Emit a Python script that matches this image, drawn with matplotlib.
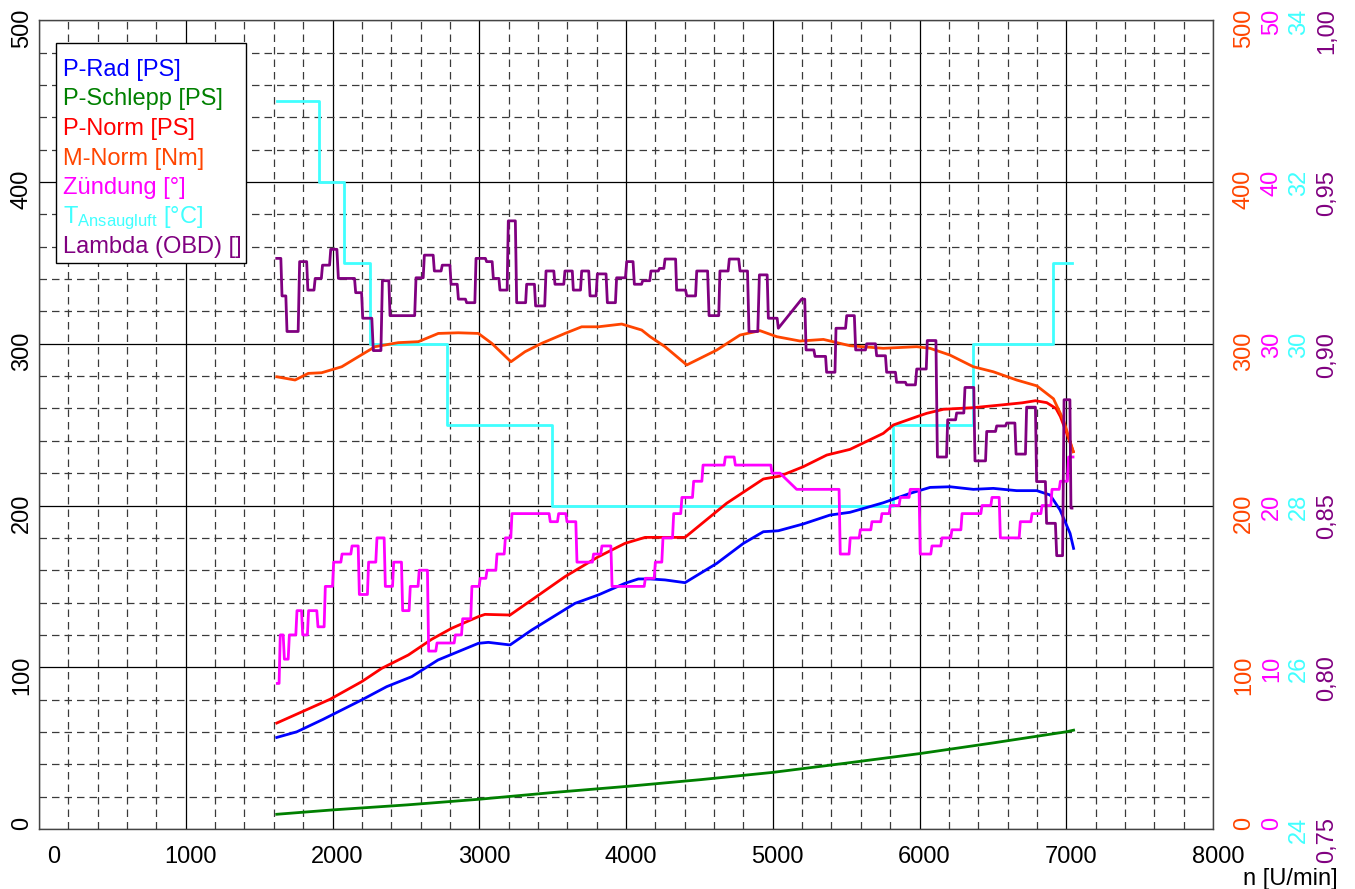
import matplotlib
matplotlib.use('Agg')
import matplotlib.pyplot as plt
import matplotlib.transforms as mtransforms
from matplotlib.patches import Rectangle
import numpy as np

plt.rcParams['font.family'] = ['Liberation Sans', 'DejaVu Sans']
plt.rcParams['mathtext.fontset'] = 'custom'
plt.rcParams['mathtext.rm'] = 'Liberation Sans'

# ---------------- data ----------------
x_ticks = [0, 1000, 2000, 3000, 4000, 5000, 6000, 7000, 8000]
x_ticklabels = ['0', '1000', '2000', '3000', '4000', '5000', '6000', '7000', '8000']
y_ticks = [0, 100, 200, 300, 400, 500]
y_ticklabels = ['0', '100', '200', '300', '400', '500']
m_ticklabels = ['0', '100', '200', '300', '400', '500']
z_ticklabels = ['0', '10', '20', '30', '40', '50']
t_ticklabels = ['24', '26', '28', '30', '32', '34']
l_ticklabels = ['0,75', '0,80', '0,85', '0,90', '0,95', '1,00']

legend_labels = ['P-Rad [PS]', 'P-Schlepp [PS]', 'P-Norm [PS]', 'M-Norm [Nm]',
                 'Zündung [°]', r'T$\mathregular{_{Ansaugluft}}$ [°C]', 'Lambda (OBD) []']

# P-Rad [PS]
prad_n = [1620, 1757, 1936, 2199, 2369, 2540, 2719, 2994, 3062, 3210, 3357, 3652, 3811,
          3993, 4084, 4164, 4266, 4402, 4618, 4800, 4936, 5038, 5208, 5390, 5526, 5753,
          5935, 6072, 6208, 6367, 6503, 6662, 6799, 6890, 6958, 7026, 7050]
prad_v = [56.6, 60.1, 67.8, 79.8, 88.0, 94.2, 104.5, 114.8, 115.4, 113.8, 123.0, 139.5, 144.7,
          151.9, 154.6, 154.6, 154.0, 152.3, 164.2, 176.6, 183.8, 184.4, 188.6, 194.1, 195.8, 201.7,
          207.5, 211.2, 211.6, 210.0, 210.6, 209.2, 209.2, 206.5, 197.2, 182.8, 173.5]

# P-Schlepp [PS]
pschl_n = [1620, 2000, 2507, 3000, 3507, 4000, 4507, 5000, 5507, 6000, 6507, 7000, 7050]
pschl_v = [9.1, 11.8, 14.9, 18.4, 22.6, 26.3, 30.5, 35.0, 40.8, 46.6, 53.3, 60.1, 61.1]

# P-Norm [PS]
pnorm_n = [1620, 1983, 2199, 2335, 2517, 2676, 2812, 2994, 3039, 3210, 3357, 3584, 3811,
           3993, 4130, 4266, 4402, 4686, 4936, 5049, 5208, 5368, 5526, 5753, 5822, 5981,
           6049, 6163, 6367, 6549, 6700, 6790, 6867, 6930, 6960, 6985, 7010, 7048]
pnorm_v = [65.5, 80.2, 91.1, 99.3, 107.6, 117.3, 124.1, 131.3, 132.7, 132.3, 141.6, 156.0, 168.3,
           176.6, 180.3, 180.3, 180.3, 201.4, 216.4, 218.2, 224.0, 231.2, 234.7, 244.6, 249.8, 254.9,
           257.0, 259.5, 260.5, 262.1, 263.5, 264.8, 263.6, 260.0, 255.0, 249.0, 243.0, 233.3]

# M-Norm [Nm]
mnorm_n = [1620, 1745, 1835, 1926, 2063, 2176, 2290, 2448, 2585, 2721, 2857, 2994, 3085,
           3216, 3312, 3426, 3584, 3698, 3811, 3971, 4107, 4164, 4266, 4414, 4618, 4777,
           4913, 5027, 5186, 5345, 5526, 5753, 5981, 6072, 6208, 6367, 6503, 6662, 6799,
           6913, 6981, 7048]
mnorm_v = [279.6, 277.6, 281.7, 282.1, 285.8, 292.0, 298.2, 300.7, 301.3, 306.4, 306.8, 306.4, 300.3,
           288.9, 295.1, 300.3, 306.4, 310.5, 310.5, 312.2, 308.5, 304.4, 298.2, 286.9, 296.1, 305.4,
           308.1, 304.4, 301.7, 302.7, 298.8, 297.2, 298.2, 297.2, 293.0, 285.8, 282.7, 277.6, 274.0,
           266.0, 252.9, 233.3]

# Zündung [°]  (polyline vertices)
zuend_n = [1624, 1636, 1644, 1664, 1672, 1698, 1706, 1750, 1758, 1789, 1797, 1829, 1837, 1893,
           1901, 1943, 1951, 2000, 2008, 2057, 2065, 2125, 2133, 2175, 2183, 2238, 2246, 2295,
           2303, 2352, 2360, 2409, 2417, 2470, 2478, 2522, 2530, 2583, 2591, 2647, 2655, 2704,
           2712, 2829, 2837, 2879, 2887, 2942, 2950, 2999, 3007, 3045, 3053, 3113, 3121, 3170,
           3178, 3215, 3223, 3476, 3484, 3533, 3541, 3590, 3598, 3658, 3666, 3771, 3779, 3828,
           3836, 3897, 3905, 4124, 4132, 4192, 4200, 4244, 4252, 4317, 4325, 4373, 4381, 4453,
           4461, 4517, 4525, 4669, 4677, 4737, 4745, 4987, 4995, 5049, 5163, 5452, 5460, 5520,
           5528, 5589, 5597, 5668, 5676, 5736, 5744, 5793, 5801, 5861, 5869, 5929, 5937, 5997,
           6005, 6077, 6085, 6145, 6153, 6213, 6221, 6282, 6290, 6418, 6426, 6486, 6494, 6543,
           6551, 6679, 6687, 6759, 6767, 6827, 6835, 6895, 6903, 6952, 6960, 7008, 7016, 7046]
zuend_deg = [9.0, 9.0, 12.0, 12.0, 10.5, 10.5, 12.0, 12.0, 13.5, 13.5, 12.0, 12.0, 13.5, 13.5,
             12.5, 12.5, 15.0, 15.0, 16.5, 16.5, 17.0, 17.0, 17.5, 17.5, 14.5, 14.5, 16.5, 16.5,
             18.0, 18.0, 15.0, 15.0, 16.5, 16.5, 13.5, 13.5, 15.0, 15.0, 16.0, 16.0, 11.0, 11.0,
             11.5, 11.5, 12.0, 12.0, 13.0, 13.0, 15.0, 15.0, 15.5, 15.5, 16.0, 16.0, 17.0, 17.0,
             18.0, 18.0, 19.5, 19.5, 19.0, 19.0, 19.5, 19.5, 19.0, 19.0, 16.5, 16.5, 17.0, 17.0,
             17.5, 17.5, 15.0, 15.0, 15.5, 15.5, 16.5, 16.5, 18.0, 18.0, 19.5, 19.5, 20.5, 20.5,
             21.5, 21.5, 22.5, 22.5, 23.0, 23.0, 22.5, 22.5, 22.0, 22.0, 21.0, 21.0, 17.0, 17.0,
             18.0, 18.0, 18.5, 18.5, 19.0, 19.0, 19.5, 19.5, 20.0, 20.0, 20.5, 20.5, 21.0, 21.0,
             17.0, 17.0, 17.5, 17.5, 18.0, 18.0, 18.5, 18.5, 19.5, 19.5, 20.0, 20.0, 20.5, 20.5,
             18.0, 18.0, 19.0, 19.0, 19.5, 19.5, 20.0, 20.0, 21.0, 21.0, 21.5, 21.5, 23.0, 23.0]

# T Ansaugluft [°C]  (step edges / values)
tans_n = [1620, 1910, 2080, 2255, 2778, 3494, 5820, 6362, 6911, 7040]
tans_c = [33, 32, 31, 30, 29, 28, 29, 30, 31, 31]

# Lambda (OBD)  (polyline vertices)
lam_n = [1620, 1648, 1656, 1682, 1690, 1766, 1776, 1824, 1832, 1874, 1882, 1924, 1932, 1980,
         1988, 2030, 2040, 2150, 2158, 2198, 2206, 2268, 2278, 2330, 2340, 2384, 2392, 2560,
         2569, 2618, 2626, 2686, 2694, 2740, 2748, 2800, 2808, 2850, 2858, 2906, 2914, 2970,
         2978, 3042, 3050, 3088, 3096, 3134, 3141, 3190, 3198, 3246, 3255, 3316, 3323, 3376,
         3384, 3446, 3455, 3508, 3516, 3576, 3584, 3634, 3641, 3690, 3698, 3746, 3755, 3796,
         3805, 3864, 3873, 3928, 3936, 3996, 4005, 4048, 4057, 4106, 4114, 4162, 4170, 4220,
         4228, 4258, 4266, 4338, 4345, 4406, 4414, 4474, 4482, 4556, 4566, 4632, 4640, 4696,
         4704, 4768, 4777, 4828, 4838, 4898, 4909, 4962, 4970, 5030, 5038, 5197, 5218, 5227,
         5280, 5288, 5360, 5367, 5424, 5431, 5496, 5504, 5556, 5565, 5632, 5640, 5700, 5708,
         5768, 5776, 5836, 5844, 5904, 5912, 5972, 5981, 6046, 6053, 6112, 6122, 6184, 6192,
         6246, 6253, 6302, 6310, 6370, 6378, 6450, 6458, 6518, 6526, 6586, 6594, 6650, 6658,
         6722, 6730, 6790, 6798, 6858, 6866, 6926, 6935, 6975, 6985, 7025, 7032, 7039]
lam_v = [0.9264, 0.9264, 0.9148, 0.9148, 0.9038, 0.9038, 0.9254, 0.9254, 0.9166, 0.9166,
         0.9202, 0.9202, 0.9243, 0.9243, 0.9292, 0.9292, 0.9202, 0.9202, 0.9158, 0.9158,
         0.9079, 0.9079, 0.8979, 0.8979, 0.9195, 0.9195, 0.9087, 0.9087, 0.9204, 0.9204,
         0.9274, 0.9274, 0.9225, 0.9225, 0.9243, 0.9243, 0.9184, 0.9184, 0.9138, 0.9138,
         0.9127, 0.9127, 0.9264, 0.9264, 0.9254, 0.9254, 0.9202, 0.9202, 0.9166, 0.9166,
         0.9380, 0.9380, 0.9127, 0.9127, 0.9184, 0.9184, 0.9117, 0.9117, 0.9225, 0.9225,
         0.9184, 0.9184, 0.9225, 0.9225, 0.9166, 0.9166, 0.9225, 0.9225, 0.9148, 0.9148,
         0.9216, 0.9216, 0.9127, 0.9127, 0.9204, 0.9204, 0.9254, 0.9254, 0.9184, 0.9184,
         0.9195, 0.9195, 0.9225, 0.9225, 0.9233, 0.9233, 0.9262, 0.9262, 0.9166, 0.9166,
         0.9148, 0.9148, 0.9225, 0.9225, 0.9087, 0.9087, 0.9225, 0.9225, 0.9262, 0.9262,
         0.9225, 0.9225, 0.9038, 0.9038, 0.9213, 0.9213, 0.9079, 0.9079, 0.9048, 0.9138,
         0.9138, 0.8981, 0.8981, 0.8961, 0.8961, 0.8912, 0.8912, 0.9048, 0.9048, 0.9087,
         0.9087, 0.8981, 0.8981, 0.9000, 0.9000, 0.8963, 0.8963, 0.8912, 0.8912, 0.8881,
         0.8881, 0.8873, 0.8873, 0.8922, 0.8922, 0.9010, 0.9010, 0.8650, 0.8650, 0.8765,
         0.8765, 0.8786, 0.8786, 0.8865, 0.8865, 0.8638, 0.8638, 0.8729, 0.8729, 0.8746,
         0.8746, 0.8755, 0.8755, 0.8659, 0.8659, 0.8804, 0.8804, 0.8574, 0.8574, 0.8445,
         0.8445, 0.8345, 0.8345, 0.8827, 0.8827, 0.8492, 0.8492]

# ---------------- styling ----------------
C_RAD = '#0000FF'
C_SCHL = '#008000'
C_NORM = '#FF0000'
C_M = '#FF4500'
C_Z = '#FF00FF'
C_T = '#40FFFF'
C_L = '#800080'
colors = [C_RAD, C_SCHL, C_NORM, C_M, C_Z, C_T, C_L]
FS = 17
LW = 2.0

W, H = 1355, 889
fig = plt.figure(figsize=(W / 100, H / 100), dpi=100)
AX_L, AX_R, AX_B, AX_T = 39, 1213, 829, 20.3
ax = fig.add_axes([AX_L / W, 1 - AX_B / H, (AX_R - AX_L) / W, (AX_B - AX_T) / H])
ax.set_xlim(0, 8000)
ax.set_ylim(0, 500)

ax.set_xticks(x_ticks)
ax.set_xticklabels(x_ticklabels, fontsize=FS)
ax.set_xticks(np.arange(0, 8001, 200), minor=True)
ax.set_yticks(y_ticks)
ax.set_yticks(np.arange(0, 501, 20), minor=True)
ax.tick_params(which='both', length=0)
ax.tick_params(axis='x', pad=12)
ax.tick_params(axis='y', labelleft=False)
ax.grid(which='major', color='black', lw=0.9, ls='-')
ax.grid(which='minor', color='#3a3a3a', lw=0.9, ls=(0, (6, 4)))
ax.set_axisbelow(True)
for s in ax.spines.values():
    s.set_color('#444444')
    s.set_linewidth(1.0)

# shift x tick labels slightly right
for lab in ax.get_xticklabels():
    dx = 15 if lab.get_text() == '0' else 5
    lab.set_transform(lab.get_transform() + mtransforms.ScaledTranslation(dx / 100, 0, fig.dpi_scale_trans))

# ---------------- curves ----------------
def z2main(v):
    return np.asarray(v, float) * 10.0

def t2main(v):
    return (np.asarray(v, float) - 24.0) * 50.0

def l2main(v):
    return (np.asarray(v, float) - 0.75) * 2000.0

ax.plot(tans_n, t2main(tans_c), color=C_T, lw=LW, drawstyle='steps-post', zorder=2)
ax.plot(pschl_n, pschl_v, color=C_SCHL, lw=LW, zorder=3)
ax.plot(prad_n, prad_v, color=C_RAD, lw=LW, zorder=3)
ax.plot(pnorm_n, pnorm_v, color=C_NORM, lw=LW, zorder=3)
ax.plot(mnorm_n, mnorm_v, color=C_M, lw=LW, zorder=3)
ax.plot(zuend_n, z2main(zuend_deg), color=C_Z, lw=LW, zorder=3)
ax.plot(lam_n, l2main(lam_v), color=C_L, lw=LW, zorder=4)

# ---------------- axis labels (rotated) ----------------
up = mtransforms.ScaledTranslation(0, 12 / 100, fig.dpi_scale_trans)
def col_labels(xpix, labels, color):
    tr = mtransforms.blended_transform_factory(fig.transFigure, ax.transData) + up
    for val, lab in zip(y_ticks, labels):
        fig.text(xpix / W, val, lab, transform=tr, rotation=90, ha='center', va='top',
                 fontsize=FS, color=color)

col_labels(22, y_ticklabels, 'black')
col_labels(1244, m_ticklabels, C_M)
col_labels(1272, z_ticklabels, C_Z)
col_labels(1299, t_ticklabels, C_T)
col_labels(1327.5, l_ticklabels, C_L)

fig.text(1338 / W, (H - 885) / H, 'n [U/min]', ha='right', va='baseline', fontsize=FS)

# ---------------- legend box ----------------
def ax_x(px):
    return (px - AX_L) / (AX_R - AX_L)

def ax_y(py):
    return (AX_B - py) / (AX_B - AX_T)

ax.add_patch(Rectangle((ax_x(56), ax_y(263)), ax_x(246) - ax_x(56), ax_y(43) - ax_y(263),
                       transform=ax.transAxes, facecolor='white', edgecolor='black',
                       lw=1.0, zorder=6))
for i, (lab, col) in enumerate(zip(legend_labels, colors)):
    ax.text(ax_x(63), ax_y(76 + i * 29.5), lab, transform=ax.transAxes, color=col,
            fontsize=FS, ha='left', va='baseline', zorder=7)

fig.savefig('out.png', dpi=100)
